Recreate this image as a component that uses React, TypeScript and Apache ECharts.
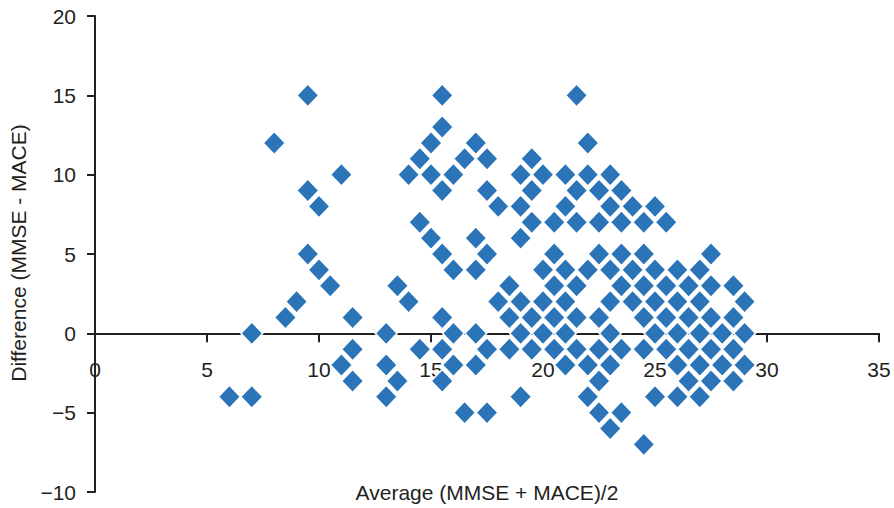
import React, { useEffect, useRef } from "react";
import * as echarts from "echarts";

// Bland–Altman style scatter: each array lists the averages observed at a given difference
const avgAtDiff15 = [9.5, 15.5, 21.5];
const avgAtDiff13 = [15.5];
const avgAtDiff12 = [8, 15, 17, 22];
const avgAtDiff11 = [14.5, 16.5, 17.5, 19.5];
const avgAtDiff10 = [11, 14, 15, 16, 19, 20, 21, 22, 23];
const avgAtDiff9 = [9.5, 15.5, 17.5, 19.5, 21.5, 22.5, 23.5];
const avgAtDiff8 = [10, 18, 19, 21, 23, 24, 25];
const avgAtDiff7 = [14.5, 19.5, 20.5, 21.5, 22.5, 23.5, 24.5, 25.5];
const avgAtDiff6 = [15, 17, 19];
const avgAtDiff5 = [9.5, 15.5, 17.5, 20.5, 22.5, 23.5, 24.5, 27.5];
const avgAtDiff4 = [10, 16, 17, 20, 21, 22, 23, 24, 25, 26, 27];
const avgAtDiff3 = [10.5, 13.5, 18.5, 20.5, 21.5, 23.5, 24.5, 25.5, 26.5, 27.5, 28.5];
const avgAtDiff2 = [9, 14, 18, 19, 20, 21, 23, 24, 25, 26, 27, 29];
const avgAtDiff1 = [8.5, 11.5, 15.5, 18.5, 19.5, 20.5, 21.5, 22.5, 24.5, 25.5, 26.5, 27.5, 28.5];
const avgAtDiff0 = [7, 13, 16, 17, 19, 20, 21, 23, 25, 26, 27, 28, 29];
const avgAtDiffM1 = [11.5, 14.5, 15.5, 17.5, 18.5, 19.5, 20.5, 21.5, 22.5, 23.5, 24.5, 25.5, 26.5, 27.5, 28.5];
const avgAtDiffM2 = [11, 13, 16, 17, 21, 22, 23, 26, 27, 28, 29];
const avgAtDiffM3 = [11.5, 13.5, 15.5, 22.5, 26.5, 27.5, 28.5];
const avgAtDiffM4 = [6, 7, 13, 19, 22, 25, 26, 27];
const avgAtDiffM5 = [16.5, 17.5, 22.5, 23.5];
const avgAtDiffM6 = [23];
const avgAtDiffM7 = [24.5];

const differenceRows: [number, number[]][] = [
  [15, avgAtDiff15],
  [13, avgAtDiff13],
  [12, avgAtDiff12],
  [11, avgAtDiff11],
  [10, avgAtDiff10],
  [9, avgAtDiff9],
  [8, avgAtDiff8],
  [7, avgAtDiff7],
  [6, avgAtDiff6],
  [5, avgAtDiff5],
  [4, avgAtDiff4],
  [3, avgAtDiff3],
  [2, avgAtDiff2],
  [1, avgAtDiff1],
  [0, avgAtDiff0],
  [-1, avgAtDiffM1],
  [-2, avgAtDiffM2],
  [-3, avgAtDiffM3],
  [-4, avgAtDiffM4],
  [-5, avgAtDiffM5],
  [-6, avgAtDiffM6],
  [-7, avgAtDiffM7],
];

const xTitle = "Average (MMSE + MACE)/2";
const yTitle = "Difference (MMSE - MACE)";

const Y_MIN = -10;
const Y_MAX = 20;

export default function App() {
  const ref = useRef<HTMLDivElement>(null);

  useEffect(() => {
    if (!ref.current) return;
    const chart = echarts.init(ref.current, null, { renderer: "svg" });
    const data: number[][] = [];
    differenceRows.forEach(([d, avgs]) => {
      avgs.forEach((a) => data.push([a, d]));
    });
    const textColor = "#231f20";
    const font = "'Liberation Sans', Arial, Helvetica, sans-serif";
    const gridTop = 16;
    const gridBottom = 16;
    const gridHeight = 508 - gridTop - gridBottom;
    // shift the x axis (line, ticks, labels) up to the y = 0 level
    const zeroOffset = -(gridHeight * (0 - Y_MIN)) / (Y_MAX - Y_MIN);
    chart.setOption({
      animation: false,
      backgroundColor: "#ffffff",
      grid: {
        left: 95,
        right: 15,
        top: gridTop,
        bottom: gridBottom,
        containLabel: false,
        outerBoundsMode: "none",
      },
      xAxis: {
        type: "value",
        min: 0,
        max: 35,
        interval: 5,
        position: "bottom",
        offset: zeroOffset,
        axisLine: { show: true, onZero: false, lineStyle: { color: "#231f20", width: 2 } },
        axisTick: { show: true, inside: false, length: 9, lineStyle: { color: "#231f20", width: 2 } },
        axisLabel: {
          margin: 26,
          color: textColor,
          fontSize: 21,
          fontFamily: font,
        },
        splitLine: { show: false },
      },
      yAxis: {
        type: "value",
        min: Y_MIN,
        max: Y_MAX,
        interval: 5,
        axisLine: { show: true, onZero: false, lineStyle: { color: "#231f20", width: 2 } },
        axisTick: { show: true, inside: false, length: 8, lineStyle: { color: "#231f20", width: 2 } },
        axisLabel: {
          margin: 19,
          color: textColor,
          fontSize: 21,
          fontFamily: font,
          formatter: (v: number) => String(v).replace("-", "\u2212"),
        },
        splitLine: { show: false },
      },
      graphic: [
        {
          type: "text",
          x: 487,
          y: 492,
          style: {
            text: xTitle,
            x: 0,
            y: 0,
            align: "center",
            verticalAlign: "middle",
            fill: textColor,
            fontSize: 21,
            fontFamily: font,
          },
        },
        {
          type: "text",
          x: 18,
          y: 253,
          rotation: Math.PI / 2,
          style: {
            text: yTitle,
            x: 0,
            y: 0,
            align: "center",
            verticalAlign: "middle",
            fill: textColor,
            fontSize: 21,
            fontFamily: font,
          },
        },
      ],
      series: [
        {
          type: "scatter",
          data,
          symbol: "diamond",
          symbolSize: [22, 23],
          itemStyle: {
            color: "#2b74b8",
            borderColor: "#ffffff",
            borderWidth: 1.5,
            opacity: 1,
          },
        },
      ],
    });
    return () => chart.dispose();
  }, []);

  return (
    <div
      ref={ref}
      style={{ position: "absolute", left: 0, top: 0, width: 894, height: 508 }}
    />
  );
}
